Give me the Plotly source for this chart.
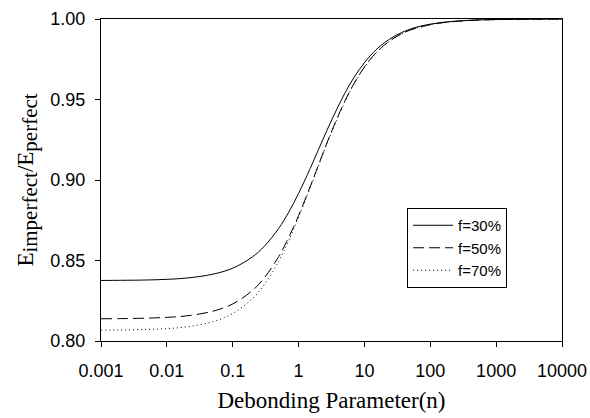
import plotly.graph_objects as go

n_vals = [0.001, 0.002, 0.005, 0.01, 0.02, 0.05, 0.1, 0.2, 0.3, 0.5, 0.7, 1, 1.5, 2, 3, 5, 7,
          10, 15, 20, 30, 50, 100, 200, 500, 1000, 2000, 5000, 10000]

f30 = [0.8376, 0.8377, 0.8379, 0.8383, 0.8391, 0.8415, 0.8452, 0.8523, 0.8587, 0.8700, 0.8796,
       0.8917, 0.9071, 0.9188, 0.9350, 0.9536, 0.9639, 0.9729, 0.9809, 0.9852, 0.9898, 0.9938,
       0.9968, 0.9984, 0.9994, 0.9997, 0.9998, 0.9999, 1.0000]

f50 = [0.8138, 0.8139, 0.8142, 0.8147, 0.8156, 0.8185, 0.8230, 0.8314, 0.8391, 0.8525, 0.8639,
       0.8779, 0.8959, 0.9092, 0.9278, 0.9487, 0.9602, 0.9702, 0.9791, 0.9838, 0.9889, 0.9932,
       0.9965, 0.9982, 0.9993, 0.9996, 0.9998, 0.9999, 1.0000]

f70 = [0.8067, 0.8068, 0.8072, 0.8077, 0.8088, 0.8120, 0.8171, 0.8264, 0.8349, 0.8496, 0.8619,
       0.8769, 0.8950, 0.9085, 0.9272, 0.9482, 0.9598, 0.9699, 0.9789, 0.9836, 0.9887, 0.9931,
       0.9964, 0.9982, 0.9993, 0.9996, 0.9998, 0.9999, 1.0000]

x_tickvals = [0.001, 0.01, 0.1, 1, 10, 100, 1000, 10000]
x_ticktext = ["0.001", "0.01", "0.1", "1", "10", "100", "1000", "10000"]
y_tickvals = [0.80, 0.85, 0.90, 0.95, 1.00]

fig = go.Figure()
fig.add_trace(go.Scatter(x=n_vals, y=f30, mode="lines", name="f=30%",
                         line=dict(color="black", width=1, shape="spline")))
fig.add_trace(go.Scatter(x=n_vals, y=f50, mode="lines", name="f=50%",
                         line=dict(color="black", width=1, dash="11px,5px", shape="spline")))
fig.add_trace(go.Scatter(x=n_vals, y=f70, mode="lines", name="f=70%",
                         line=dict(color="black", width=1, dash="1px,3px", shape="spline")))

axis_common = dict(showline=True, linecolor="black", linewidth=1.3, mirror=True,
                   ticks="outside", ticklen=5, tickwidth=1.2, tickcolor="black",
                   showgrid=False, zeroline=False,
                   tickfont=dict(family="Liberation Sans, Arial", size=18, color="black"))

fig.update_xaxes(type="log", range=[-3, 4], tickvals=x_tickvals, ticktext=x_ticktext,
                 ticklabelstandoff=8,
                 title=dict(text="Debonding Parameter(n)", standoff=12,
                            font=dict(family="Liberation Serif, Times New Roman", size=23, color="black")),
                 **axis_common)
fig.update_yaxes(range=[0.80, 1.00], tickvals=y_tickvals, tickformat=".2f",
                 ticklabelstandoff=6,
                 title=dict(text="E<sub><span style='font-size:21px'>imperfect</span></sub>/E<sub><span style='font-size:21px'>perfect</span></sub>",
                            standoff=10,
                            font=dict(family="Liberation Serif, Times New Roman", size=23, color="black")),
                 **axis_common)

fig.update_layout(
    width=590, height=418,
    margin=dict(l=101, r=28, t=19, b=77, autoexpand=False),
    paper_bgcolor="white", plot_bgcolor="white",
    showlegend=True,
    legend=dict(x=0.664, y=0.413, xanchor="left", yanchor="top",
                bordercolor="black", borderwidth=1, bgcolor="white",
                font=dict(family="Liberation Sans, Arial", size=15, color="black"),
                tracegroupgap=0, itemwidth=40),
)

fig.write_html("out.html", config={"displayModeBar": False},
               post_script="document.body.style.margin='0';document.body.style.overflow='hidden';")
